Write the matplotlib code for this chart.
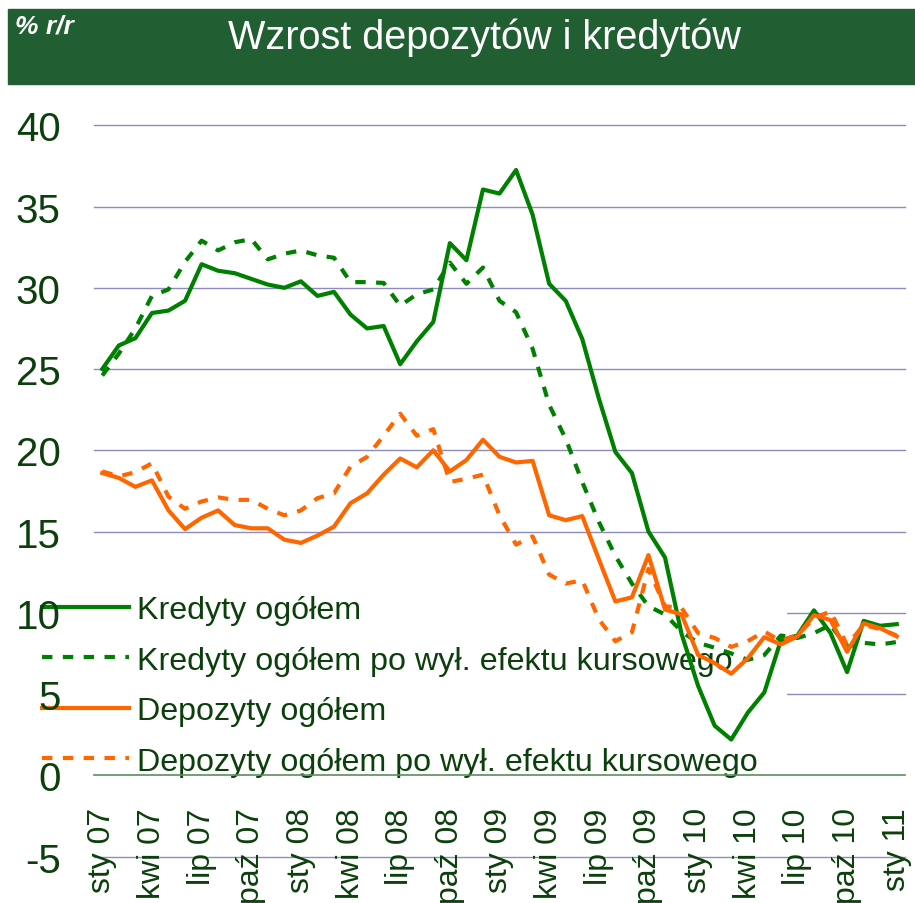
import matplotlib
matplotlib.use('Agg')
import matplotlib.pyplot as plt
from matplotlib.patches import Rectangle

plt.rcParams['font.family'] = ['Liberation Sans', 'DejaVu Sans']
plt.rcParams['axes.unicode_minus'] = False

# monthly data, sty 07 .. sty 11
kredyty = [25.0, 26.45, 26.9, 28.45, 28.6, 29.2, 31.45, 31.05, 30.9, 30.55, 30.2, 30.0, 30.4,
           29.5, 29.75, 28.35, 27.5, 27.65, 25.3, 26.7, 27.9, 32.75, 31.7, 36.05, 35.8,
           37.25, 34.5, 30.25, 29.2, 26.85, 23.2, 19.9, 18.6, 15.0, 13.4, 8.7, 5.5,
           3.05, 2.2, 3.85, 5.1, 8.3, 8.6, 10.15, 8.75, 6.35, 9.5, 9.2, 9.3]
kredyty_bez_kursu = [24.6, 25.95, 27.5, 29.5, 29.9, 31.6, 32.9, 32.3, 32.8, 33.0, 31.75, 32.1, 32.3,
                     32.0, 31.85, 30.35, 30.35, 30.3, 28.9, 29.6, 29.9, 31.55, 30.25, 31.25, 29.2,
                     28.5, 26.25, 22.8, 20.7, 18.05, 15.6, 13.5, 11.8, 10.4, 9.9, 8.85, 8.15,
                     7.85, 7.5, 7.1, 7.4, 8.6, 8.45, 8.75, 9.25, 7.9, 8.15, 8.05, 8.2]
depozyty = [18.6, 18.3, 17.75, 18.15, 16.3, 15.15, 15.85, 16.3, 15.4, 15.2, 15.2, 14.5, 14.3,
            14.75, 15.3, 16.75, 17.35, 18.5, 19.5, 18.95, 20.0, 18.7, 19.4, 20.65, 19.6,
            19.25, 19.35, 16.0, 15.7, 15.95, 13.3, 10.7, 10.95, 13.55, 10.2, 9.9, 7.4,
            6.9, 6.25, 7.2, 8.5, 8.05, 8.55, 9.85, 9.55, 7.6, 9.35, 9.05, 8.55]
depozyty_bez_kursu = [18.7, 18.4, 18.65, 19.2, 17.15, 16.4, 16.85, 17.1, 16.95, 16.95, 16.4, 16.0, 16.3,
                      17.05, 17.35, 19.0, 19.6, 20.9, 22.25, 20.9, 21.3, 18.05, 18.25, 18.5, 16.0,
                      14.2, 14.7, 12.35, 11.8, 12.0, 9.6, 8.25, 8.8, 12.7, 10.4, 10.3, 8.75,
                      8.45, 7.9, 8.25, 8.85, 8.25, 8.65, 9.65, 10.1, 8.0, 9.25, 9.0, 8.6]

tick_labels = ['sty 07', 'kwi 07', 'lip 07', 'paź 07', 'sty 08', 'kwi 08', 'lip 08', 'paź 08',
               'sty 09', 'kwi 09', 'lip 09', 'paź 09', 'sty 10', 'kwi 10', 'lip 10', 'paź 10', 'sty 11']
labels = ['Kredyty ogółem', 'Kredyty ogółem po wył. efektu kursowego',
          'Depozyty ogółem', 'Depozyty ogółem po wył. efektu kursowego']
y_ticks = list(range(-5, 41, 5))

W, H = 915, 904
dark = '#0B3F0B'
green = '#008000'
orange = '#FF6600'

fig = plt.figure(figsize=(W / 100, H / 100), dpi=100)
fig.patches.append(Rectangle((8 / W, 1 - 85 / H), 1 - 8 / W, 75 / H,
                             transform=fig.transFigure, color='#215E31', zorder=0))
fig.text(484 / W, 1 - 38 / H, 'Wzrost depozytów i kredytów', color='white',
         fontsize=28.5, ha='center', va='center')
fig.text(15 / W, 1 - 26 / H, '% r/r', color='white', fontsize=19, fontstyle='italic',
         fontweight='bold', ha='left', va='center')

ax = fig.add_axes([94 / W, 1 - 858 / H, (905 - 94) / W, (858 - 126) / H])
x = list(range(len(kredyty)))

dash = (2.5, 2.5)
ax.plot(x, kredyty, color=green, lw=3, label=labels[0], zorder=3)
ax.plot(x, kredyty_bez_kursu, color=green, lw=3, ls=(0, dash), label=labels[1], zorder=3)
ax.plot(x, depozyty, color=orange, lw=3, label=labels[2], zorder=3)
ax.plot(x, depozyty_bez_kursu, color=orange, lw=3, ls=(0, dash), label=labels[3], zorder=3)

# gridlines under the legend box, tick labels above it
for v in y_ticks:
    if v != 0:
        ax.axhline(v, color='#8C8CC0', lw=1.0, zorder=0.5, clip_on=False)
ax.set_axisbelow(False)

for s in ['top', 'right', 'left']:
    ax.spines[s].set_visible(False)
ax.spines['bottom'].set_position(('data', 0))
ax.spines['bottom'].set_color('#5E8E5E')
ax.spines['bottom'].set_linewidth(1.2)
ax.spines['bottom'].set_zorder(2.5)

ax.set_xlim(-0.5, len(x) - 0.5)
ax.set_ylim(-5.03, 40.02)
ax.set_yticks(y_ticks)
ax.set_xticks(range(0, len(x), 3))
ax.set_xticklabels(tick_labels)
ax.tick_params(axis='y', length=0, pad=24, labelsize=29, labelcolor=dark)
ax.tick_params(axis='x', length=0, pad=23, labelsize=23, labelcolor=dark, labelrotation=90)

leg = ax.legend(loc='upper left', bbox_to_anchor=(29 / W, 1 - 583 / H - 0.1, (787 - 29) / W, 0.1),
                bbox_transform=fig.transFigure, mode='expand', borderaxespad=0,
                fontsize=23.2, labelcolor=dark, handlelength=2.7, handletextpad=0.26,
                labelspacing=0.64, borderpad=0.4, fancybox=False, framealpha=1,
                facecolor='white', edgecolor='none')
leg.set_zorder(1)

fig.savefig('out.png', dpi=100)
